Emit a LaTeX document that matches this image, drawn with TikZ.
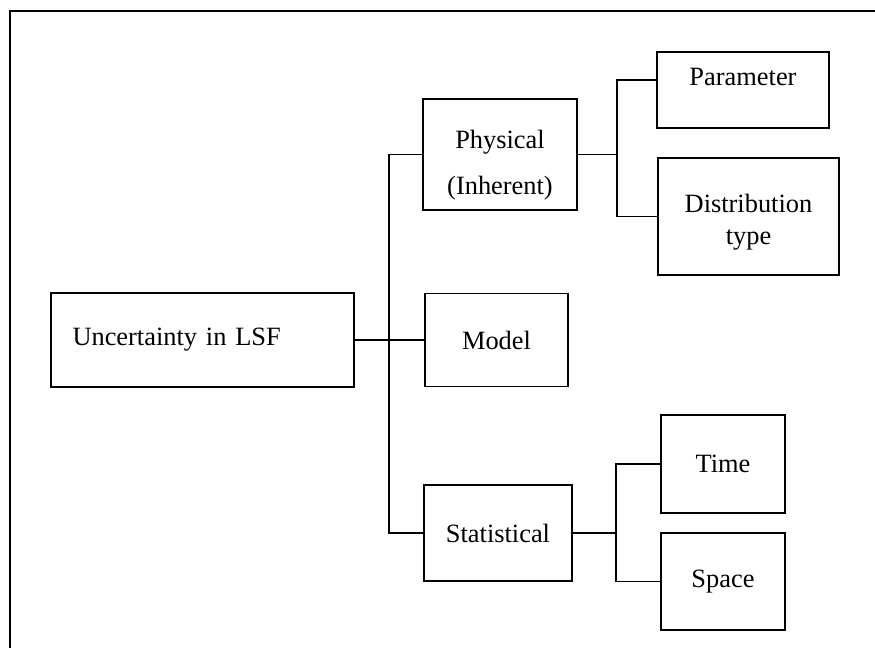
\documentclass[tikz,border=0pt]{standalone}
\usepackage{fontspec}
\setmainfont{Liberation Serif}
\usepackage{tikz}
\usetikzlibrary{calc}
\usetikzlibrary{positioning}
\tikzset{link/.style={draw=black,line width=0.9pt}}

\begin{document}
\begin{tikzpicture}[x=0.5pt,y=-0.5pt]
  % some styles
  \tikzset{
    item/.style={
      rectangle,
      draw=black,
      line width=0.9pt,
      inner sep=0pt,
      outer sep=0pt,
      align=center,
      font=\fontsize{13.2}{16}\selectfont
    }
  }
  \useasboundingbox (0,0) rectangle (875,648);

  % frame (runs off the page on the right and at the bottom)
  \draw[line width=1.2pt] (10,648) -- (10,11) -- (875,11);

  % boxes
  \node[item, minimum width=151.5pt, minimum height=47pt, text width=130pt,
        inner xsep=10.5pt, align=left] (lsf) at (202.5,340) {Uncertainty in LSF};
  \node[item, minimum width=77pt, minimum height=55.5pt] (phys) at (500,154.5)
        {\rule{0pt}{19.5pt}Physical\\[7pt](Inherent)};
  \node[item, minimum width=71.5pt, minimum height=46.5pt] (model) at (496.5,340) {Model};
  \node[item, minimum width=74pt, minimum height=48pt] (stat) at (498,533) {Statistical};
  \node[item, minimum width=86pt, minimum height=38pt] (param) at (743,90)
        {\rule[-13pt]{0pt}{13pt}Parameter};
  \node[item, minimum width=90.5pt, minimum height=58.5pt] (dist) at (748.5,216.5)
        {\rule{0pt}{15pt}Distribution\\type};
  \node[item, minimum width=62pt, minimum height=49pt] (time) at (723,464) {Time};
  \node[item, minimum width=62pt, minimum height=48.5pt] (space) at (723,581.5) {Space};

  % junctions
  \coordinate (trunk) at (389,340);
  \coordinate (pj) at (617,154);
  \coordinate (sj) at (616,533);

  % connectors
  \draw[link] (lsf.east) -- (model.west);
  \draw[link] (phys.west) -| (trunk) |- (stat.west);
  \draw[link] (phys.east) -- (phys.east -| pj);
  \draw[link] ([yshift=5pt]param.west) -| (pj) |- (dist.west);
  \draw[link] (stat.east) -- (stat.east -| sj);
  \draw[link] (time.west) -| (sj) |- (space.west);

\end{tikzpicture}
\end{document}
